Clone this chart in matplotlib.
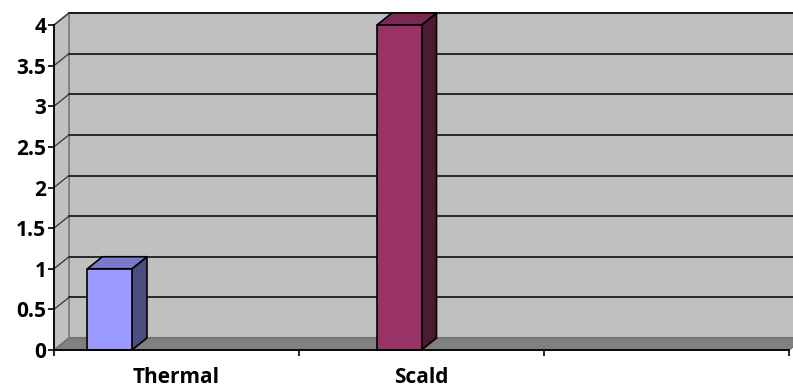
import matplotlib.pyplot as plt
from matplotlib.patches import Polygon
from matplotlib.colors import to_rgb

# chart data
categories = ["Thermal", "Scald", ""]
series_values = [
    [1, 0, 0],
    [0, 4, 0],
    [0, 0, 0],
    [0, 0, 0],
]
series_colors = ["#9999FF", "#993366", "#FFFFCC", "#CCFFFF"]
y_ticks = [0, 0.5, 1, 1.5, 2, 2.5, 3, 3.5, 4]
y_tick_labels = ["0", "0.5", "1", "1.5", "2", "2.5", "3", "3.5", "4"]

plt.rcParams['font.family'] = ['Open Sans', 'DejaVu Sans']

W, H = 793, 389
fig = plt.figure(figsize=(W / 100, H / 100), dpi=100)
ax = fig.add_axes([54 / W, 39 / H, 735 / W, 325 / H])

n_cat = len(categories)
ymax = y_ticks[-1]
ax.set_xlim(0, n_cat)
ax.set_ylim(0, ymax)

# depth offset of the 3d box, 15px right and 12px up
ddx = 15 / 735 * n_cat
ddy = 12 / 325 * ymax


def shade(c, f):
    r, g, b = to_rgb(c)
    return (r * f, g * f, b * f)


# walls and floor
back = Polygon([(ddx, ddy), (n_cat + ddx, ddy), (n_cat + ddx, ymax + ddy), (ddx, ymax + ddy)],
               closed=True, facecolor="#C0C0C0", edgecolor="#808080", lw=1.5, clip_on=False, zorder=1)
side = Polygon([(0, 0), (ddx, ddy), (ddx, ymax + ddy), (0, ymax)],
               closed=True, facecolor="#C0C0C0", edgecolor="#808080", lw=1.2, clip_on=False, zorder=1)
floor = Polygon([(0, 0), (n_cat, 0), (n_cat + ddx, ddy), (ddx, ddy)],
                closed=True, facecolor="#808080", edgecolor="#6E6E6E", lw=1, clip_on=False, zorder=1)
for p in (back, side, floor):
    ax.add_patch(p)

# gridlines on the back wall and side wall
for t in y_ticks[1:]:
    ax.plot([ddx, n_cat + ddx], [t + ddy, t + ddy], color="black", lw=1.1, clip_on=False, zorder=2)
    ax.plot([0, ddx], [t, t + ddy], color="#333333", lw=0.9, clip_on=False, zorder=2)

# bars, clustered with gap width 150%
n_ser = len(series_values)
w = 1 / (n_ser + 1.5)
for i, vals in enumerate(series_values):
    col = series_colors[i]
    for j, v in enumerate(vals):
        if v == 0:
            continue
        x0 = j + 0.75 * w + i * w
        sd = Polygon([(x0 + w, 0), (x0 + w + ddx, ddy), (x0 + w + ddx, v + ddy), (x0 + w, v)],
                     closed=True, facecolor=shade(col, 0.5), edgecolor="black", lw=1.2,
                     clip_on=False, zorder=3)
        tp = Polygon([(x0, v), (x0 + w, v), (x0 + w + ddx, v + ddy), (x0 + ddx, v + ddy)],
                     closed=True, facecolor=shade(col, 0.8), edgecolor="black", lw=1.2,
                     clip_on=False, zorder=3)
        ax.add_patch(sd)
        ax.add_patch(tp)
        ax.bar(x0, v, width=w, align="edge", color=col, edgecolor="black", lw=1.2,
               clip_on=False, zorder=4)

# axes styling
ax.set_facecolor("none")
for s in ("top", "right"):
    ax.spines[s].set_visible(False)
for s in ("left", "bottom"):
    ax.spines[s].set_color("black")
    ax.spines[s].set_linewidth(1.3)
    ax.spines[s].set_zorder(5)

ax.set_yticks(y_ticks)
ax.set_yticklabels(y_tick_labels, fontsize=15, fontweight="bold")
ax.tick_params(axis="y", direction="out", length=4.5, width=1.2, pad=1)

ax.set_xticks(range(n_cat + 1))
ax.set_xticklabels([])
ax.tick_params(axis="x", which="major", direction="out", length=4.5, width=1.2)
ax.set_xticks([j + 0.5 for j in range(n_cat)], minor=True)
ax.set_xticklabels(categories, minor=True, fontsize=15, fontweight="bold")
ax.tick_params(axis="x", which="minor", length=0, pad=12)

fig.savefig("out.png", dpi=100, facecolor="white")
